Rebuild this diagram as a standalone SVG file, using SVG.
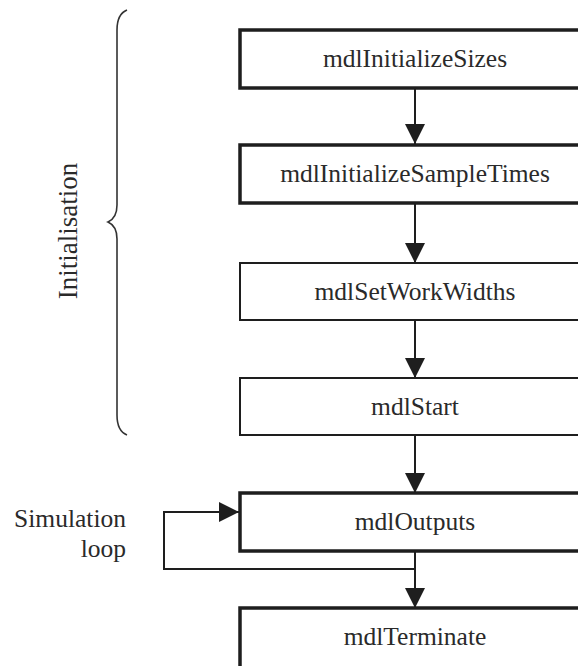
<svg xmlns="http://www.w3.org/2000/svg" width="578" height="666" viewBox="0 0 578 666">
  <style>
    .box { fill: #ffffff; stroke: #1e1e1e; }
    .thick { stroke-width: 3.5; }
    .thin { stroke-width: 2; }
    .mid { text-anchor: middle; }
    .end { text-anchor: end; }
    .wire { fill: none; stroke: #1e1e1e; stroke-width: 2; }
    .brace { fill: none; stroke: #333333; stroke-width: 1.6; }
  </style>
  <defs>
    <marker id="arrow" markerUnits="userSpaceOnUse" markerWidth="20" markerHeight="20" viewBox="0 0 20 20" refX="20" refY="10" orient="auto">
      <path d="M0,0 L20,10 L0,20 Z" fill="#1e1e1e"/>
    </marker>
  </defs>

  <rect width="578" height="666" fill="#ffffff"/>

  <g font-family="Liberation Serif" font-size="25.5" fill="#2a2a2a">
    <!-- Initialisation brace -->
    <g id="initialisation">
      <path class="brace" d="M127,10 Q117,14 117,30 L117,205 Q117,218 108,222 Q117,226 117,239 L117,415 Q117,431 127,435"/>
      <text class="mid" font-size="27" transform="translate(77,231) rotate(-90)">Initialisation</text>
    </g>

    <!-- Simulation loop label -->
    <g id="loop-label">
      <text class="end" x="126" y="527">Simulation</text>
      <text class="end" x="126" y="557">loop</text>
    </g>

    <!-- Connectors -->
    <g id="connectors">
      <line class="wire" x1="415" y1="88" x2="415" y2="144" marker-end="url(#arrow)"/>
      <line class="wire" x1="415" y1="203" x2="415" y2="263" marker-end="url(#arrow)"/>
      <line class="wire" x1="415" y1="320" x2="415" y2="378" marker-end="url(#arrow)"/>
      <line class="wire" x1="415" y1="435" x2="415" y2="493" marker-end="url(#arrow)"/>
      <line class="wire" x1="415" y1="551" x2="415" y2="608" marker-end="url(#arrow)"/>
      <polyline class="wire" points="415,569 164,569 164,512 239,512" marker-end="url(#arrow)"/>
    </g>

    <!-- Callback blocks -->
    <g id="mdlInitializeSizes">
      <rect class="box thick" x="240" y="30" width="350" height="58"/>
      <text class="mid" x="415" y="67">mdlInitializeSizes</text>
    </g>
    <g id="mdlInitializeSampleTimes">
      <rect class="box thick" x="240" y="145" width="350" height="58"/>
      <text class="mid" x="415" y="182">mdlInitializeSampleTimes</text>
    </g>
    <g id="mdlSetWorkWidths">
      <rect class="box thin" x="240" y="263" width="350" height="57"/>
      <text class="mid" x="415" y="300">mdlSetWorkWidths</text>
    </g>
    <g id="mdlStart">
      <rect class="box thin" x="240" y="378" width="350" height="57"/>
      <text class="mid" x="415" y="415">mdlStart</text>
    </g>
    <g id="mdlOutputs">
      <rect class="box thick" x="240" y="493" width="350" height="58"/>
      <text class="mid" x="415" y="530">mdlOutputs</text>
    </g>
    <g id="mdlTerminate">
      <rect class="box thick" x="240" y="608" width="350" height="66"/>
      <text class="mid" x="415" y="645">mdlTerminate</text>
    </g>
  </g>
</svg>
